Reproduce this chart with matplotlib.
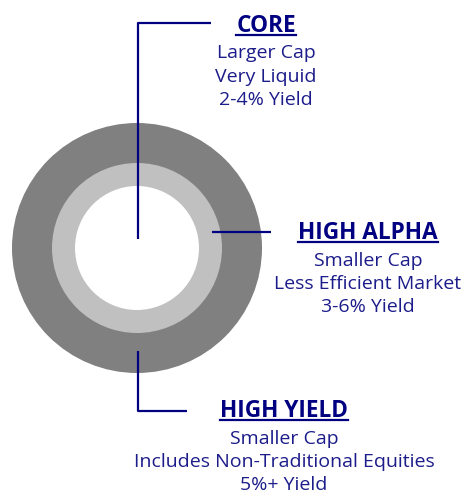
import matplotlib
matplotlib.use("Agg")
import matplotlib.pyplot as plt
from matplotlib.patches import Circle

# Segment data (pixel space of a 464x496 canvas)
segments = ["CORE", "HIGH ALPHA", "HIGH YIELD"]
details = [
    ["Larger Cap", "Very Liquid", "2-4% Yield"],
    ["Smaller Cap", "Less Efficient Market", "3-6% Yield"],
    ["Smaller Cap", "Includes Non-Traditional Equities", "5%+ Yield"],
]
ring_radii = [125, 85, 62]
ring_colors = ["#808080", "#c0c0c0", "#ffffff"]
center = (137, 248)

# header centre x, header baseline y
label_pos = [(266, 32), (368, 239), (284, 417)]
leaders = [
    [(138, 239), (138, 23), (211, 23)],
    [(212, 232), (271, 232)],
    [(138, 351), (138, 411), (187, 411)],
]

NAVY = "#000080"
BODY = "#1c1c8a"
W, H = 464, 496

fig = plt.figure(figsize=(W / 100, H / 100), dpi=100)
ax = fig.add_axes([0, 0, 1, 1])
ax.set_xlim(0, W)
ax.set_ylim(H, 0)
ax.axis("off")

for r, c in zip(ring_radii, ring_colors):
    ax.add_patch(Circle(center, r, facecolor=c, edgecolor="none"))

for pts in leaders:
    xs, ys = zip(*pts)
    ax.plot(xs, ys, color=NAVY, linewidth=1.6, solid_capstyle="butt")

fig.canvas.draw()
renderer = fig.canvas.get_renderer()
inv = ax.transData.inverted()

for name, lines, (x, y) in zip(segments, details, label_pos):
    t = ax.text(x, y, name, ha="center", va="baseline", fontsize=16.3,
                fontweight="bold", color=NAVY, family="Open Sans")
    bb = t.get_window_extent(renderer)
    (x0, _), (x1, _) = inv.transform([(bb.x0, bb.y0), (bb.x1, bb.y0)])
    ax.plot([x0, x1], [y + 2.5, y + 2.5], color=NAVY, linewidth=1.6)
    for i, line in enumerate(lines):
        ax.text(x, y + 26.5 + 23.4 * i, line, ha="center", va="baseline",
                fontsize=14, color=BODY, family="Open Sans")

fig.savefig("out.png", dpi=100, facecolor="white")
